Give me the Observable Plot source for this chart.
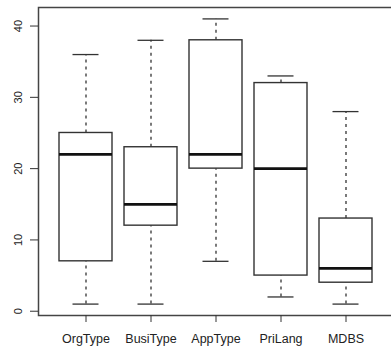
<!DOCTYPE html>
<html><head><meta charset="utf-8">
<script src="https://cdn.jsdelivr.net/npm/d3@7"></script>
<script src="https://cdn.jsdelivr.net/npm/@observablehq/plot@0.6"></script>
<style>body{margin:0;background:#fff}</style>
</head><body><div id="chart"></div>
<script>
const categories = ["OrgType", "BusiType", "AppType", "PriLang", "MDBS"];
const mins    = [1, 1, 7, 2, 1];
const q1s     = [7, 12, 20, 5, 4];
const medians = [22, 15, 22, 20, 6];
const q3s     = [25, 23, 38, 32, 13];
const maxs    = [36, 38, 41, 33, 28];
const yTicks  = [0, 10, 20, 30, 40];

const data = categories.map((c, i) => ({cat: c, min: mins[i], q1: q1s[i], med: medians[i], q3: q3s[i], max: maxs[i]}));
const ink = "#333";

const chart = Plot.plot({
  width: 391, height: 351,
  marginTop: 7, marginBottom: 36, marginLeft: 38, marginRight: -3,
  style: {fontFamily: "Liberation Sans, Arial, sans-serif", background: "#fff"},
  x: {type: "band", domain: categories, paddingInner: 0.18, paddingOuter: 0.29, label: null},
  y: {domain: [-0.6, 42.6], label: null},
  marks: [
    Plot.ruleX(data, {x: "cat", y1: "q3", y2: "max", stroke: ink, strokeWidth: 1.3, strokeDasharray: "3,4"}),
    Plot.ruleX(data, {x: "cat", y1: "min", y2: "q1", stroke: ink, strokeWidth: 1.3, strokeDasharray: "3,4"}),
    Plot.tickY(data, {x: "cat", y: "max", stroke: ink, strokeWidth: 1.3, inset: 13.5}),
    Plot.tickY(data, {x: "cat", y: "min", stroke: ink, strokeWidth: 1.3, inset: 13.5}),
    Plot.barY(data, {x: "cat", y1: "q1", y2: "q3", fill: "#fff", stroke: ink, strokeWidth: 1.4}),
    Plot.tickY(data, {x: "cat", y: "med", stroke: "#111", strokeWidth: 2.8}),
    Plot.frame({stroke: "#444", strokeWidth: 1.5}),
    Plot.axisY(yTicks, {anchor: "left", tickSize: 8, tickPadding: 9, tickRotate: -90, fontSize: 11, stroke: ink, fill: "#222"}),
    Plot.axisX({anchor: "bottom", tickSize: 7, tickPadding: 12, fontSize: 12.5, stroke: ink, fill: "#222"})
  ]
});
document.getElementById("chart").appendChild(chart);
</script>
</body></html>
